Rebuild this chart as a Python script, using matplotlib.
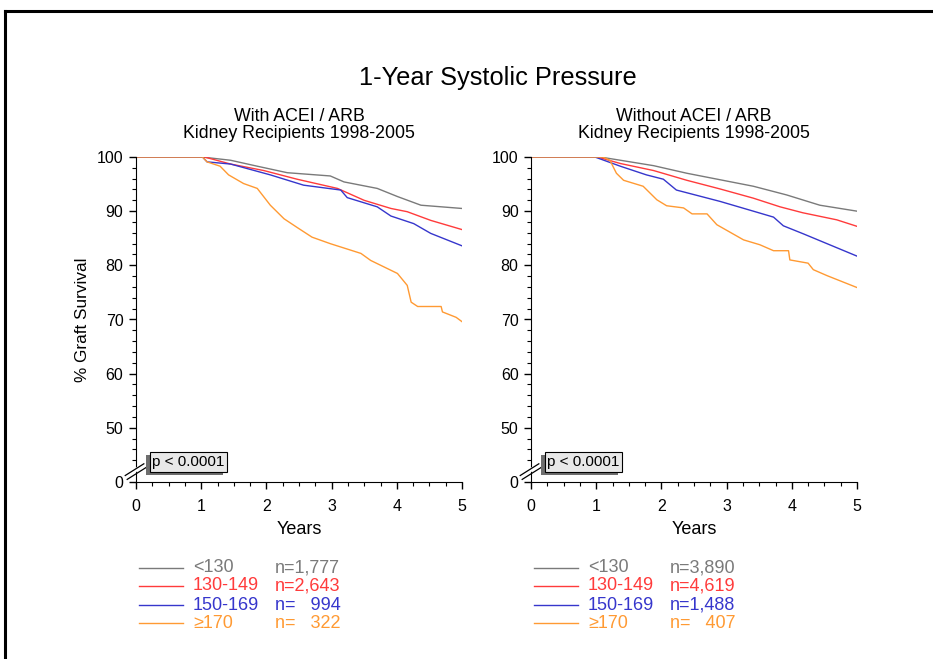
import matplotlib
matplotlib.use("Agg")
import matplotlib.pyplot as plt
from matplotlib.lines import Line2D
from matplotlib.patches import Rectangle, Polygon
from matplotlib.ticker import MultipleLocator, FixedLocator

plt.rcParams['font.family'] = ['Liberation Sans', 'DejaVu Sans']

groups = ["<130", "130-149", "150-169", "\u2265170"]
colors = ["#7a7a7a", "#ff3b3b", "#3636cc", "#ff9a33"]

n_with = ["n=1,777", "n=2,643", "n=   994", "n=   322"]
n_without = ["n=3,890", "n=4,619", "n=1,488", "n=   407"]

# With ACEI / ARB
w_gray_t = [0, 1.01, 1.45, 1.86, 2.32, 2.98, 3.19, 3.70, 4.01, 4.37, 5.0]
w_gray_v = [100, 100, 99.4, 98.3, 97.1, 96.5, 95.4, 94.2, 92.7, 91.1, 90.5]
w_red_t = [0, 1.05, 1.45, 1.96, 2.47, 3.09, 3.50, 3.91, 4.16, 4.52, 5.0]
w_red_v = [100, 100, 98.7, 97.5, 95.9, 94.2, 92.0, 90.5, 89.9, 88.3, 86.6]
w_blue_t = [0, 1.02, 1.09, 1.45, 2.06, 2.57, 3.14, 3.24, 3.70, 3.91, 4.26, 4.52, 5.0]
w_blue_v = [100, 100, 99.1, 98.7, 96.7, 94.8, 93.9, 92.5, 90.8, 89.1, 87.7, 85.9, 83.6]
w_orange_t = [0, 1.02, 1.09, 1.29, 1.42, 1.65, 1.86, 2.06, 2.27, 2.47, 2.70, 2.98, 3.45,
              3.60, 4.01, 4.16, 4.22, 4.32, 4.68, 4.70, 4.91, 5.0]
w_orange_v = [100, 100, 99.1, 98.3, 96.7, 95.1, 94.2, 91.1, 88.6, 87.0, 85.2, 84.0, 82.2,
              80.9, 78.5, 76.3, 73.2, 72.4, 72.4, 71.4, 70.4, 69.6]

# Without ACEI / ARB
o_gray_t = [0, 1.06, 1.37, 1.88, 2.39, 2.90, 3.41, 3.92, 4.43, 5.0]
o_gray_v = [100, 100, 99.4, 98.4, 97.0, 95.8, 94.6, 93.0, 91.1, 90.0]
o_red_t = [0, 1.02, 1.37, 1.88, 2.39, 2.90, 3.41, 3.82, 4.17, 4.69, 5.0]
o_red_v = [100, 100, 98.8, 97.5, 95.7, 94.1, 92.4, 90.8, 89.7, 88.4, 87.2]
o_blue_t = [0, 0.98, 1.37, 1.77, 2.03, 2.23, 2.90, 3.41, 3.72, 3.87, 4.18, 4.54, 5.0]
o_blue_v = [100, 100, 98.3, 96.7, 95.9, 93.9, 91.8, 90.0, 88.9, 87.3, 85.8, 84.0, 81.7]
o_orange_t = [0, 1.10, 1.21, 1.31, 1.42, 1.72, 1.93, 2.08, 2.34, 2.47, 2.70, 2.85, 3.26,
              3.51, 3.72, 3.95, 3.97, 4.25, 4.33, 4.54, 5.0]
o_orange_v = [100, 100, 99.4, 97.0, 95.7, 94.6, 92.1, 91.0, 90.6, 89.5, 89.5, 87.5, 84.7,
              83.8, 82.7, 82.7, 81.0, 80.4, 79.2, 78.1, 75.9]

with_series = [(w_gray_t, w_gray_v), (w_red_t, w_red_v), (w_blue_t, w_blue_v), (w_orange_t, w_orange_v)]
without_series = [(o_gray_t, o_gray_v), (o_red_t, o_red_v), (o_blue_t, o_blue_v), (o_orange_t, o_orange_v)]

yticks = [40, 50, 60, 70, 80, 90, 100]
yticklabels = ["0", "50", "60", "70", "80", "90", "100"]
xticks = [0, 1, 2, 3, 4, 5]

W, H = 933, 659
fig = plt.figure(figsize=(W / 100, H / 100), dpi=100)

# outer frame (top and left)
fig.add_artist(Line2D([5 / W, 1.0], [1 - 11 / H, 1 - 11 / H], color="black", lw=2.2, transform=fig.transFigure))
fig.add_artist(Line2D([5 / W, 5 / W], [0, 1 - 11 / H], color="black", lw=2.2, transform=fig.transFigure))

fig.text(498 / W, 1 - 78 / H, "1-Year Systolic Pressure", ha="center", va="center", fontsize=18.3)

panels = [
    (136, "With ACEI / ARB", with_series, n_with),
    (531, "Without ACEI / ARB", without_series, n_without),
]

for left_px, subtitle, series, ns in panels:
    ax = fig.add_axes([left_px / W, (H - 482) / H, 326 / W, 325 / H])
    for (t, v), c in zip(series, colors):
        ax.plot(t, v, color=c, lw=1.0)
    ax.set_xlim(0, 5)
    ax.set_ylim(40, 100)
    ax.spines['top'].set_visible(False)
    ax.spines['right'].set_visible(False)
    ax.set_yticks(yticks)
    ax.set_yticklabels(yticklabels)
    ax.set_xticks(xticks)
    ax.yaxis.set_minor_locator(FixedLocator([42, 44, 46, 48, 52, 54, 56, 58, 62, 64, 66, 68, 72, 74, 76, 78,
                                             82, 84, 86, 88, 92, 94, 96, 98]))
    ax.xaxis.set_minor_locator(MultipleLocator(0.25))
    ax.tick_params(which="major", direction="out", length=5, width=1, labelsize=11.5)
    ax.tick_params(axis="x", which="major", pad=7)
    ax.tick_params(axis="y", which="major", pad=4)
    ax.tick_params(which="minor", direction="out", length=3, width=0.8)
    ax.set_xlabel("Years", fontsize=13, labelpad=5)
    if left_px == 136:
        ax.set_ylabel("% Graft Survival", fontsize=12.3, labelpad=5)
    ax.set_title(subtitle + "\nKidney Recipients 1998-2005", fontsize=12.8, pad=13.5, linespacing=1.0)

    # axis break
    tr = ax.transAxes
    ax.add_patch(Polygon([[-0.02, 0.028], [0.01, 0.052], [0.01, 0.038], [-0.02, 0.014]],
                         closed=True, facecolor="white", edgecolor="none", transform=tr, clip_on=False, zorder=5))
    ax.add_line(Line2D([-0.033, 0.024], [0.020, 0.056], color="black", lw=0.9, transform=tr, clip_on=False, zorder=6))
    ax.add_line(Line2D([-0.027, 0.030], [0.008, 0.044], color="black", lw=0.9, transform=tr, clip_on=False, zorder=6))

    # p-value box with shadow
    bx0 = 14 / 326
    by0 = (482 - 472) / 325
    bw = 77 / 326
    bh = 20 / 325
    ax.add_patch(Rectangle((bx0 - 4 / 326, by0 - 3 / 325), bw, bh, facecolor="#6e6e6e", edgecolor="none",
                           transform=tr, clip_on=False, zorder=6))
    ax.add_patch(Rectangle((bx0, by0), bw, bh, facecolor="#e8e8e8", edgecolor="black", lw=0.8,
                           transform=tr, clip_on=False, zorder=7))
    ax.text(bx0 + bw / 2, by0 + bh / 2, "p < 0.0001", ha="center", va="center", fontsize=11,
            transform=tr, zorder=8)

    # legend
    rows = [568, 586, 605, 623]
    for g, c, n, ry in zip(groups, colors, ns, rows):
        yf = 1 - ry / H
        fig.add_artist(Line2D([(left_px + 3) / W, (left_px + 47) / W], [yf, yf], color=c, lw=1.0,
                              transform=fig.transFigure))
        fig.text((left_px + 57) / W, yf, g, color=c, fontsize=13, ha="left", va="center")
        fig.text((left_px + 139) / W, yf, n, color=c, fontsize=13, ha="left", va="center")

fig.savefig("out.png", dpi=100)
